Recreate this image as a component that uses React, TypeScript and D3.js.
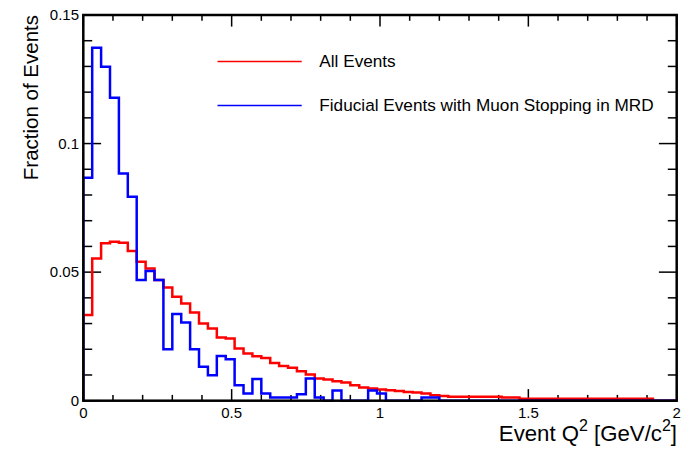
import React from "react";
import * as d3 from "d3";

const BIN_WIDTH = 0.03;
const xTicksMajor = [0, 0.5, 1, 1.5, 2];
const xTickLabels = ["0", "0.5", "1", "1.5", "2"];
const yTicksMajor = [0, 0.05, 0.1, 0.15];
const yTickLabels = ["0", "0.05", "0.1", "0.15"];

const allEvents = [
  0.0333, 0.0553, 0.0612, 0.0618, 0.0614, 0.0582, 0.054, 0.0514, 0.0469, 0.044,
  0.0404, 0.0378, 0.0343, 0.03, 0.0281, 0.0246, 0.0242, 0.0203, 0.0184, 0.0173,
  0.0166, 0.0147, 0.0135, 0.0128, 0.0115, 0.0102, 0.0086, 0.0082, 0.0076, 0.0071,
  0.006, 0.0051, 0.0047, 0.0044, 0.0041, 0.0038, 0.0034, 0.0032, 0.0028, 0.0021,
  0.0018, 0.0015, 0.0015, 0.0015, 0.0015, 0.0015, 0.0015, 0.0012, 0.0012, 0.0008,
  0.0008, 0.0008, 0.0008, 0.0008, 0.0008, 0.0008, 0.0008, 0.0008, 0.0008, 0.0008,
  0.0008, 0.0008, 0.0008, 0.0008, 0, 0, 0,
];

const fiducialStopping = [
  0.0867, 0.1373, 0.1299, 0.1178, 0.0884, 0.0793, 0.0469, 0.0504, 0.0469, 0.02,
  0.0337, 0.0304, 0.02, 0.0132, 0.0099, 0.0174, 0.0161, 0.006, 0.0028, 0.0084,
  0.0028, 0.0012, 0.0012, 0.0012, 0.0025, 0.0086, 0.0012, 0, 0.004, 0,
  0, 0, 0.004, 0.0028, 0, 0, 0, 0, 0.0012, 0.0012,
  0, 0, 0, 0, 0, 0, 0, 0, 0, 0,
  0, 0, 0, 0, 0, 0, 0, 0, 0, 0,
  0, 0, 0, 0, 0, 0, 0,
];

const legendLabels = ["All Events", "Fiducial Events with Muon Stopping in MRD"];
const colors = ["#ff0000", "#0000ff"];

const W = 683;
const H = 449;
const left = 83.3;
const right = 676.7;
const top = 15;
const bottom = 400.7;
const FONT = "'Liberation Sans', Arial, Helvetica, sans-serif";

export default function App() {
  const x = d3.scaleLinear().domain([0, 2]).range([left, right]);
  const y = d3.scaleLinear().domain([0, 0.15]).range([bottom, top]);

  const histPath = (vals: number[]) => {
    const pts: [number, number][] = [[0, 0]];
    vals.forEach((v, i) => pts.push([i * BIN_WIDTH, v]));
    pts.push([vals.length * BIN_WIDTH, vals[vals.length - 1]]);
    pts.push([vals.length * BIN_WIDTH, 0]);
    return d3
      .line<[number, number]>()
      .x((d) => x(d[0]))
      .y((d) => y(d[1]))
      .curve(d3.curveStepAfter)(pts) as string;
  };

  const xMinor = d3.range(0, 2.0001, 0.1);
  const yMinor = d3.range(0, 0.15001, 0.01);
  const isMajorX = (v: number) => Math.abs(v / 0.5 - Math.round(v / 0.5)) < 1e-6;
  const isMajorY = (v: number) => Math.abs(v / 0.05 - Math.round(v / 0.05)) < 1e-6;

  const xMajLen = 11.6, xMinLen = 5.8, yMajLen = 17.8, yMinLen = 8.9;

  return (
    <svg width={W} height={H} style={{ position: "absolute", left: 0, top: 0 }}>
      <rect width={W} height={H} fill="#fff" />
      <defs>
        <clipPath id="plotclip">
          <rect x={left} y={0} width={right - left} height={H} />
        </clipPath>
      </defs>

      {/* ticks */}
      {xMinor.map((v, i) => {
        const len = isMajorX(v) ? xMajLen : xMinLen;
        return (
          <g key={"xt" + i} stroke="#000" strokeWidth={1.5}>
            <line x1={x(v)} x2={x(v)} y1={bottom} y2={bottom - len} />
            <line x1={x(v)} x2={x(v)} y1={top} y2={top + len} />
          </g>
        );
      })}
      {yMinor.map((v, i) => {
        const len = isMajorY(v) ? yMajLen : yMinLen;
        return (
          <g key={"yt" + i} stroke="#000" strokeWidth={1.5}>
            <line x1={left} x2={left + len} y1={y(v)} y2={y(v)} />
            <line x1={right} x2={right - len} y1={y(v)} y2={y(v)} />
          </g>
        );
      })}

      {/* histograms */}
      <g clipPath="url(#plotclip)" fill="none" strokeWidth={2.5}>
        <path d={histPath(allEvents)} stroke={colors[0]} />
        <path d={histPath(fiducialStopping)} stroke={colors[1]} />
      </g>

      {/* frame */}
      <rect x={left} y={top} width={right - left} height={bottom - top} fill="none" stroke="#000" strokeWidth={2.5} />

      {/* tick labels */}
      {xTicksMajor.map((v, i) => (
        <text key={"xl" + i} x={x(v)} y={418} textAnchor="middle" fontFamily={FONT} fontSize={15} fill="#000">
          {xTickLabels[i]}
        </text>
      ))}
      {yTicksMajor.map((v, i) => (
        <text key={"yl" + i} x={79} y={y(v) + 5.3} textAnchor="end" fontFamily={FONT} fontSize={15} fill="#000">
          {yTickLabels[i]}
        </text>
      ))}

      {/* axis titles */}
      <text transform={`translate(38,${top}) rotate(-90)`} textAnchor="end" fontFamily={FONT} fontSize={20.5} fill="#000">
        Fraction of Events
      </text>
      <text x={677} y={441} textAnchor="end" fontFamily={FONT} fontSize={22.2} fill="#000">
        Event Q
        <tspan dy={-10} fontSize={16}>2</tspan>
        <tspan dy={10}> [GeV/c</tspan>
        <tspan dy={-10} fontSize={16}>2</tspan>
        <tspan dy={10}>]</tspan>
      </text>

      {/* legend */}
      {legendLabels.map((lab, i) => {
        const ly = 61.5 + i * 44;
        return (
          <g key={"lg" + i}>
            <line x1={217.5} x2={301.7} y1={ly} y2={ly} stroke={colors[i]} strokeWidth={1.5} />
            <text x={319.3} y={ly + 5.8} fontFamily={FONT} fontSize={17.2} fill="#000">
              {lab}
            </text>
          </g>
        );
      })}
    </svg>
  );
}
